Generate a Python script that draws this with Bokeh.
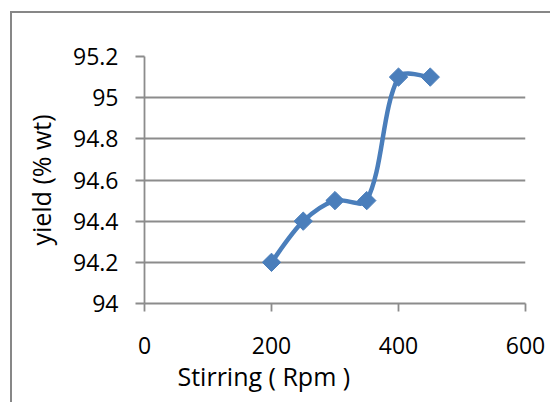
import math
from bokeh.plotting import figure
from bokeh.models import Range1d, FixedTicker, NumeralTickFormatter, Title
from bokeh.embed import file_html
from bokeh.resources import INLINE

# ---- data ----
rpm = [200, 250, 300, 350, 400, 450]
yield_wt = [94.2, 94.4, 94.5, 94.5, 95.1, 95.1]
x_ticks = [0, 200, 400, 600]
y_ticks = [94.0, 94.2, 94.4, 94.6, 94.8, 95.0, 95.2]
x_title = "Stirring ( Rpm )"
y_title = "yield (% wt)"

FONT = "Open Sans"
GRAY = "#8c8c8c"
BLUE = "#4A7EBB"

# frame size in pixels (used for the smoothing metric only)
FRAME_W, FRAME_H = 381, 247


def smooth_segments(xs, ys):
    """Excel-like smoothed line as cubic Bezier segments."""
    kx = FRAME_W / (x_ticks[-1] - x_ticks[0])
    ky = FRAME_H / (y_ticks[-1] - y_ticks[0])
    n = len(xs)

    def d(i, j):
        return math.hypot((xs[j] - xs[i]) * kx, (ys[j] - ys[i]) * ky)

    seg = dict(x0=[], y0=[], x1=[], y1=[], cx0=[], cy0=[], cx1=[], cy1=[])
    for i in range(n - 1):
        im = i - 1 if i > 0 else i
        ip = i + 2 if i + 2 < n else i + 1
        d01, d12, d23 = d(im, i), d(i, i + 1), d(i + 1, ip)
        f1 = (d12 / (d01 + d12)) / 3.0 if d01 > 0 else 1.0 / 6.0
        f2 = (d12 / (d12 + d23)) / 3.0 if d23 > 0 else 1.0 / 6.0
        seg["x0"].append(xs[i]); seg["y0"].append(ys[i])
        seg["x1"].append(xs[i + 1]); seg["y1"].append(ys[i + 1])
        seg["cx0"].append(xs[i] + (xs[i + 1] - xs[im]) * f1)
        seg["cy0"].append(ys[i] + (ys[i + 1] - ys[im]) * f1)
        seg["cx1"].append(xs[i + 1] - (xs[ip] - xs[i]) * f2)
        seg["cy1"].append(ys[i + 1] - (ys[ip] - ys[i]) * f2)
    return seg


p = figure(width=540, height=391, output_backend="svg", toolbar_location=None,
           x_range=Range1d(x_ticks[0], x_ticks[-1]), y_range=Range1d(y_ticks[0], y_ticks[-1]),
           min_border_left=132, min_border_right=27, min_border_top=43, min_border_bottom=101,
           margin=(11, 0, 0, 10),
           styles={"border-left": "2px solid #878787", "border-top": "2px solid #878787"})
p.outline_line_color = None
p.background_fill_color = "white"
p.border_fill_color = "white"

# grid
p.xgrid.visible = False
p.ygrid.ticker = FixedTicker(ticks=y_ticks)
p.ygrid.grid_line_color = GRAY
p.ygrid.grid_line_width = 1.8

# axes
p.xaxis.ticker = FixedTicker(ticks=x_ticks)
p.yaxis.ticker = FixedTicker(ticks=y_ticks)
p.yaxis.formatter = NumeralTickFormatter(format="0.[0]")
for ax in (p.xaxis, p.yaxis):
    ax.axis_line_color = GRAY
    ax.axis_line_width = 1.8
    ax.major_tick_line_color = GRAY
    ax.major_tick_line_width = 1.8
    ax.major_tick_in = 0
    ax.minor_tick_line_color = None
    ax.major_label_text_font = FONT
    ax.major_label_text_font_size = "23px"
    ax.major_label_text_color = "black"
p.yaxis.major_tick_out = 9
p.xaxis.major_tick_out = 8
p.yaxis.major_label_standoff = 17
p.xaxis.major_label_standoff = 25

p.yaxis.axis_label = y_title
p.yaxis.axis_label_text_font = FONT
p.yaxis.axis_label_text_font_size = "25px"
p.yaxis.axis_label_text_font_style = "normal"
p.yaxis.axis_label_text_color = "black"
p.yaxis.axis_label_standoff = 12

# x title, left-shifted like the original
p.add_layout(Title(text=x_title, align="left", offset=33, standoff=0,
                   text_font=FONT, text_font_size="25px", text_font_style="normal",
                   text_color="black"), "below")

# smoothed line + diamond markers
seg = smooth_segments(rpm, yield_wt)
p.bezier(x0="x0", y0="y0", x1="x1", y1="y1", cx0="cx0", cy0="cy0", cx1="cx1", cy1="cy1",
         source=seg, line_color=BLUE, line_width=4.5)
p.scatter(rpm, yield_wt, marker="square", angle=0.785398, size=13,
          fill_color=BLUE, line_color=BLUE)

open("out.html", "w").write(file_html(p, INLINE))
